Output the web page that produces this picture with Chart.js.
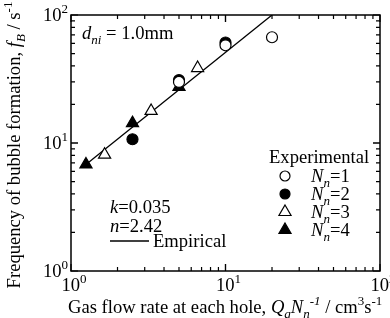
<!DOCTYPE html>
<html>
<head>
<meta charset="utf-8">
<script src="https://cdn.jsdelivr.net/npm/chart.js@4"></script>
<style>body{margin:0;background:#fff}</style>
</head>
<body>
<canvas id="chart" width="390" height="318"></canvas>
<script>
const n1X = [5, 10, 20];
const n1Y = [30, 58, 67];
const n2X = [2.5, 5, 10];
const n2Y = [10.7, 31, 61];
const n3X = [1.65, 3.3, 6.6];
const n3Y = [8.1, 17.8, 38.5];
const n4X = [1.25, 2.5, 5];
const n4Y = [6.8, 14.3, 27.4];
// Empirical fit line end points
const empX = [1.25, 20];
const empY = [6.8, 100];

const FONT = '"Liberation Serif", "Times New Roman", serif';
const FS = 18.6;

const pts = (xs, ys) => xs.map((x, i) => ({ x: x, y: ys[i] }));

function font(italic, size) {
    return (italic ? 'italic ' : '') + size + 'px ' + FONT;
}

// draw a run of text pieces with italic / sub / sup
function drawRich(ctx, parts, x, y, size, align) {
    const widths = parts.map(p => {
        const s = (p.sub || p.sup) ? size * 0.7 : size;
        ctx.font = font(p.i, s);
        return ctx.measureText(p.t).width;
    });
    const total = widths.reduce((a, b) => a + b, 0);
    let cx = x;
    if (align === 'center') cx = x - total / 2;
    else if (align === 'right') cx = x - total;
    ctx.fillStyle = '#000';
    parts.forEach((p, i) => {
        const s = (p.sub || p.sup) ? size * 0.7 : size;
        ctx.font = font(p.i, s);
        let dy = 0;
        if (p.sub) dy = size * 0.25;
        if (p.sup) dy = -size * 0.42;
        ctx.fillText(p.t, cx, y + dy);
        cx += widths[i];
    });
}

function marker(ctx, style, filled, x, y, r) {
    ctx.beginPath();
    if (style === 'circle') {
        ctx.arc(x, y, r, 0, Math.PI * 2);
    } else {
        ctx.moveTo(x, y - r);
        ctx.lineTo(x + r * 0.866, y + r * 0.5);
        ctx.lineTo(x - r * 0.866, y + r * 0.5);
        ctx.closePath();
    }
    ctx.fillStyle = filled ? '#000' : '#fff';
    ctx.fill();
    ctx.lineWidth = 1.2;
    ctx.strokeStyle = '#000';
    ctx.stroke();
}

const decor = {
    id: 'decor',
    afterDraw(chart) {
        const ctx = chart.ctx;
        const a = chart.chartArea;
        const xs = chart.scales.x;
        const ys = chart.scales.y;
        ctx.save();
        ctx.strokeStyle = '#000';
        ctx.fillStyle = '#000';
        ctx.textBaseline = 'alphabetic';

        // frame
        ctx.lineWidth = 1.5;
        ctx.strokeRect(a.left, a.top, a.right - a.left, a.bottom - a.top);

        // inward ticks on all four sides
        ctx.lineWidth = 1.2;
        for (let d = 1; d < 100; d *= 10) {
            for (let m = 1; m <= 10; m++) {
                const v = d * m;
                const len = (m === 1 || m === 10) ? 7 : 4;
                const px = xs.getPixelForValue(v);
                const py = ys.getPixelForValue(v);
                ctx.beginPath();
                ctx.moveTo(px, a.bottom); ctx.lineTo(px, a.bottom - len);
                ctx.moveTo(px, a.top); ctx.lineTo(px, a.top + len);
                ctx.moveTo(a.left, py); ctx.lineTo(a.left + len, py);
                ctx.moveTo(a.right, py); ctx.lineTo(a.right - len, py);
                ctx.stroke();
            }
        }

        // tick labels
        [0, 1, 2].forEach(e => {
            const v = Math.pow(10, e);
            drawRich(ctx, [{ t: '10' }, { t: String(e), sup: true }],
                a.left - 3, ys.getPixelForValue(v) + 6, FS, 'right');
            drawRich(ctx, [{ t: '10' }, { t: String(e), sup: true }],
                xs.getPixelForValue(v) + 3, a.bottom + 20, FS, 'center');
        });

        // axis titles
        drawRich(ctx, [
            { t: 'Gas flow rate at each hole, ' },
            { t: 'Q', i: true }, { t: 'g', i: true, sub: true },
            { t: 'N', i: true }, { t: 'n', i: true, sub: true }, { t: '-1', i: true, sup: true },
            { t: ' / cm' }, { t: '3', sup: true }, { t: 's' }, { t: '-1', sup: true }
        ], 68, 313, FS, 'left');

        ctx.save();
        ctx.translate(20, 145);
        ctx.rotate(-Math.PI / 2);
        drawRich(ctx, [
            { t: 'Frequency of bubble formation, ' },
            { t: 'f', i: true }, { t: 'B', i: true, sub: true },
            { t: ' / s' }, { t: '-1', sup: true }
        ], 0, 0, FS, 'center');
        ctx.restore();

        // annotations
        drawRich(ctx, [{ t: 'd', i: true }, { t: 'ni', i: true, sub: true }, { t: ' = 1.0mm' }], 82, 39, FS, 'left');
        drawRich(ctx, [{ t: 'k', i: true }, { t: '=0.035' }], 110, 213, FS, 'left');
        drawRich(ctx, [{ t: 'n', i: true }, { t: '=2.42' }], 110, 232, FS, 'left');
        ctx.lineWidth = 1.3;
        ctx.beginPath();
        ctx.moveTo(110, 241); ctx.lineTo(149, 241);
        ctx.stroke();
        drawRich(ctx, [{ t: 'Empirical' }], 153, 247, FS, 'left');

        // legend
        drawRich(ctx, [{ t: 'Experimental' }], 269, 163, FS, 'left');
        const leg = [
            ['circle', false, '1'],
            ['circle', true, '2'],
            ['triangle', false, '3'],
            ['triangle', true, '4']
        ];
        const ly = [176, 194, 212, 230];
        leg.forEach((l, i) => {
            marker(ctx, l[0], l[1], 285, ly[i], l[0] === 'circle' ? 5 : 7);
            drawRich(ctx, [{ t: 'N', i: true }, { t: 'n', i: true, sub: true }, { t: '=' + l[2] }],
                311, ly[i] + 6, FS, 'left');
        });

        ctx.restore();
    }
};

const base = { borderColor: '#000', borderWidth: 1.2, showLine: false };

new Chart(document.getElementById('chart'), {
    type: 'scatter',
    data: {
        datasets: [
            Object.assign({ label: 'Nn=1', data: pts(n1X, n1Y), pointStyle: 'circle', pointRadius: 5.5, backgroundColor: '#fff' }, base),
            Object.assign({ label: 'Nn=2', data: pts(n2X, n2Y), pointStyle: 'circle', pointRadius: 5.5, backgroundColor: '#000' }, base),
            Object.assign({ label: 'Nn=3', data: pts(n3X, n3Y), pointStyle: 'triangle', pointRadius: 7, backgroundColor: '#fff' }, base),
            Object.assign({ label: 'Nn=4', data: pts(n4X, n4Y), pointStyle: 'triangle', pointRadius: 7, backgroundColor: '#000' }, base),
            {
                label: 'Empirical',
                type: 'line',
                data: pts(empX, empY),
                borderColor: '#000',
                borderWidth: 1.3,
                pointRadius: 0,
                fill: false,
                tension: 0
            }
        ]
    },
    options: {
        responsive: false,
        animation: false,
        layout: { padding: { left: 71, right: 10, top: 15, bottom: 47 } },
        plugins: {
            legend: { display: false },
            tooltip: { enabled: false }
        },
        scales: {
            x: { type: 'logarithmic', min: 1, max: 100, display: false },
            y: { type: 'logarithmic', min: 1, max: 100, display: false }
        }
    },
    plugins: [decor]
});
</script>
</body>
</html>
